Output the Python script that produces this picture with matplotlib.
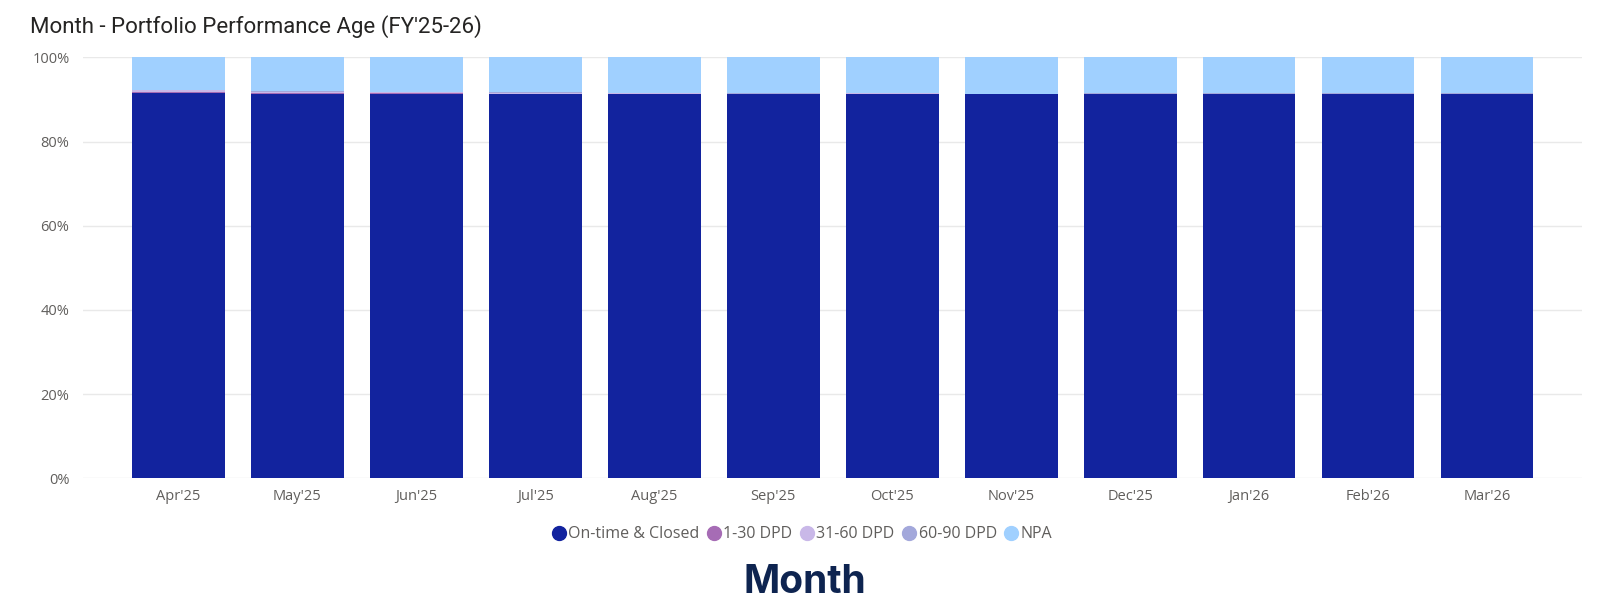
import numpy as np
import matplotlib.pyplot as plt
from matplotlib.ticker import PercentFormatter

months = ["Apr'25", "May'25", "Jun'25", "Jul'25", "Aug'25", "Sep'25",
          "Oct'25", "Nov'25", "Dec'25", "Jan'26", "Feb'26", "Mar'26"]
series = ["On-time & Closed", "1-30 DPD", "31-60 DPD", "60-90 DPD", "NPA"]
ontime = [91.5, 91.4, 91.3, 91.3, 91.3, 91.2, 91.3, 91.2, 91.3, 91.3, 91.3, 91.3]
dpd_1_30 = [0.3, 0.2, 0.15, 0.1, 0.1, 0.1, 0.05, 0.05, 0.05, 0.05, 0.05, 0.05]
dpd_31_60 = [0.45, 0.2, 0.2, 0.15, 0.1, 0.1, 0.1, 0.1, 0.05, 0.05, 0.05, 0.05]
dpd_60_90 = [0.1, 0.1, 0.1, 0.1, 0.1, 0.05, 0.05, 0.05, 0.05, 0.05, 0.05, 0.05]
npa = [7.65, 8.1, 8.25, 8.35, 8.4, 8.55, 8.5, 8.6, 8.55, 8.55, 8.55, 8.55]
colors = ["#12239E", "#A66CB5", "#C9B8E8", "#A3A8DB", "#A0D0FF"]

plt.rcParams['font.family'] = ['Open Sans', 'DejaVu Sans']

fig = plt.figure(figsize=(16.03, 6.10), dpi=100)
ax = fig.add_axes([0.052, 0.216, 0.935, 0.69])

x = np.arange(len(months))
bottom = np.zeros(len(months))
for name, vals, col in zip(series, [ontime, dpd_1_30, dpd_31_60, dpd_60_90, npa], colors):
    vals = np.array(vals)
    ax.bar(x, vals, 0.78, bottom=bottom, color=col, label=name, zorder=3,
           linewidth=0)
    bottom += vals

ax.set_ylim(0, 100)
ax.set_xlim(-0.8, 11.8)
ax.set_yticks(np.arange(0, 101, 20))
ax.yaxis.set_major_formatter(PercentFormatter(decimals=0))
ax.set_xticks(x)
ax.set_xticklabels(months)
ax.tick_params(axis='both', length=0, labelsize=10.5, labelcolor='#605E5C')
ax.tick_params(axis='x', pad=8)
ax.tick_params(axis='y', pad=10)
ax.grid(axis='y', color='#E9E9E9', linewidth=1, zorder=0)
for s in ax.spines.values():
    s.set_visible(False)

fig.text(0.019, 0.957, "Month - Portfolio Performance Age (FY'25-26)", fontsize=16,
         color='#252423', family=['Roboto', 'DejaVu Sans'], va='center')

marks = [plt.Line2D([], [], marker='o', linestyle='', markersize=10, color=c) for c in colors]
fig.legend(marks, series, loc='center', bbox_to_anchor=(0.5, 0.124), ncol=5,
           frameon=False, fontsize=11.5, labelcolor='#605E5C', handletextpad=0.1,
           columnspacing=0.4, handlelength=1.0)

fig.text(0.502, 0.045, "Month", fontsize=28, fontweight='bold', color='#0E2450',
         ha='center', va='center', family=['Inter', 'DejaVu Sans'])

fig.savefig('out.png', dpi=100)
